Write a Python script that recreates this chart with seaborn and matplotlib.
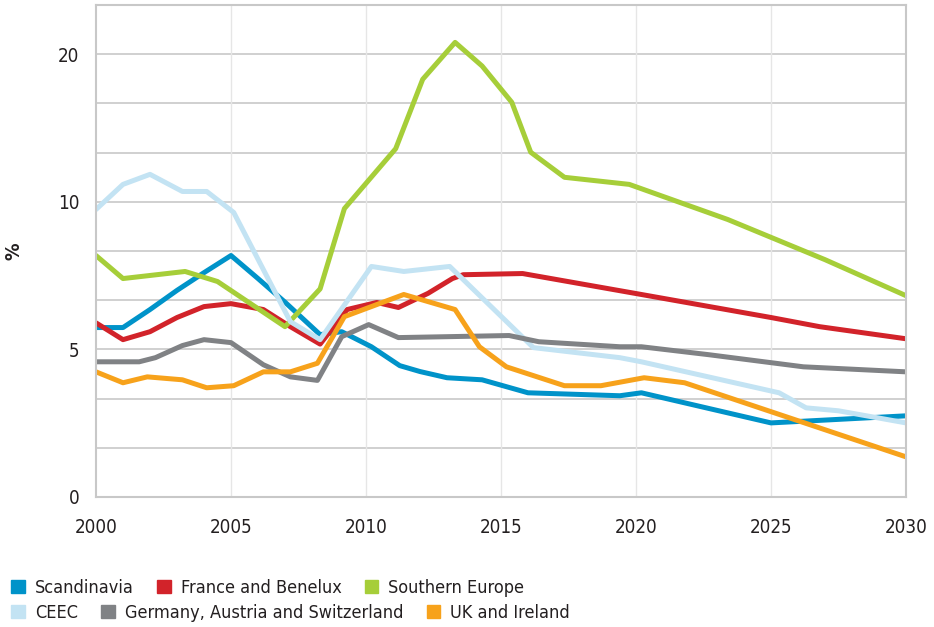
import numpy as np
import pandas as pd
import matplotlib.pyplot as plt
import seaborn as sns
from matplotlib.patches import Patch

# Значения в единицах оси (подпись "20" стоит на отметке 15, как в оригинале)
scand_years = [2000, 2001, 2002, 2003, 2004, 2005, 2006, 2007, 2008.3, 2009.1, 2010.2, 2011.25,
               2012, 2013, 2014.3, 2016, 2019.4, 2020.2, 2025, 2030]
scand_vals = [5.74, 5.74, 6.35, 7.0, 7.6, 8.18, 7.4, 6.6, 5.5, 5.6, 5.09, 4.45,
              4.25, 4.04, 3.97, 3.53, 3.43, 3.53, 2.51, 2.75]

france_years = [2000, 2001, 2002, 2003, 2004, 2005, 2006.2, 2007.2, 2008.3, 2009.3, 2010.4, 2011.2,
                2012.3, 2013.2, 2013.6, 2015.8, 2020.2, 2025, 2026.8, 2030]
france_vals = [5.9, 5.33, 5.6, 6.08, 6.45, 6.55, 6.35, 5.77, 5.18, 6.35, 6.59, 6.42,
               6.9, 7.4, 7.53, 7.57, 6.86, 6.08, 5.77, 5.36]

south_years = [2000, 2001, 2003.3, 2004.5, 2007, 2008.3, 2009.2, 2011.1, 2012.1, 2013.3, 2014.3,
               2015.4, 2016.1, 2017.35, 2019.75, 2023.4, 2027, 2030]
south_vals = [8.18, 7.4, 7.64, 7.3, 5.77, 7.05, 9.77, 11.8, 14.15, 15.4, 14.6,
              13.37, 11.68, 10.83, 10.59, 9.4, 8.04, 6.82]

ceec_years = [2000, 2001, 2002, 2003.2, 2004.1, 2005.1, 2007.2, 2008.3, 2010.2, 2011.4, 2013.1,
              2016.2, 2019.4, 2020.2, 2025.3, 2026.3, 2027.5, 2030]
ceec_vals = [9.74, 10.59, 10.93, 10.35, 10.35, 9.64, 5.94, 5.33, 7.81, 7.64, 7.81,
             5.06, 4.72, 4.58, 3.53, 3.02, 2.92, 2.51]

dach_years = [2000, 2001.6, 2002.2, 2003.2, 2004, 2005, 2006.2, 2007.2, 2008.2, 2009.1, 2010.1,
              2011.2, 2015.3, 2016.4, 2019.4, 2020.2, 2022.7, 2026.2, 2030]
dach_vals = [4.58, 4.58, 4.72, 5.13, 5.33, 5.23, 4.48, 4.07, 3.95, 5.43, 5.84,
             5.4, 5.47, 5.26, 5.09, 5.09, 4.82, 4.41, 4.24]

uk_years = [2000, 2001, 2001.9, 2003.2, 2004.1, 2005.1, 2006.2, 2007.2, 2008.2, 2009.2, 2011.4,
            2013.3, 2014.2, 2015.2, 2017.35, 2018.7, 2020.3, 2021.8, 2030]
uk_vals = [4.24, 3.87, 4.07, 3.97, 3.7, 3.77, 4.24, 4.24, 4.53, 6.11, 6.86,
           6.35, 5.09, 4.41, 3.77, 3.77, 4.04, 3.87, 1.36]

regions = ['Scandinavia', 'France and Benelux', 'Southern Europe',
           'CEEC', 'Germany, Austria and Switzerland', 'UK and Ireland']
colors = ['#0093C9', '#D2232A', '#A6CE39', '#C3E3F3', '#808285', '#F7A21B']

ytick_pos = [0, 5, 10, 15]
ytick_labels = ['0', '5', '10', '20']
xticks = [2000, 2005, 2010, 2015, 2020, 2025, 2030]

series = [(scand_years, scand_vals), (france_years, france_vals), (south_years, south_vals),
          (ceec_years, ceec_vals), (dach_years, dach_vals), (uk_years, uk_vals)]
frames = []
for name, (yrs, vals) in zip(regions, series):
    frames.append(pd.DataFrame({'year': yrs, 'value': vals, 'region': name}))
df = pd.concat(frames, ignore_index=True)

sns.set_style('white')
plt.rcParams['font.family'] = ['DejaVu Sans']
plt.rcParams['font.stretch'] = 'condensed'
text_color = '#231F20'
grid_color = '#C8C8C8'

fig = plt.figure(figsize=(9.34, 6.27), dpi=100)
ax = fig.add_axes([96 / 934, 130 / 627, 810 / 934, 492 / 627])

sns.lineplot(data=df, x='year', y='value', hue='region', hue_order=regions,
             palette=colors, estimator=None, sort=False, linewidth=3.6,
             legend=False, ax=ax)

ax.set_xlim(2000, 2030)
ax.set_ylim(0, 50 / 3)
ax.set_xticks(xticks)
ax.set_xticklabels([str(x) for x in xticks])
ax.set_yticks(ytick_pos)
ax.set_yticklabels(ytick_labels)
ax.grid(False)
for yv in np.arange(5 / 3, 16.7, 5 / 3):
    ax.axhline(yv, color=grid_color, lw=1.2, zorder=0)
for xv in xticks[1:-1]:
    ax.axvline(xv, color='#E6E6E6', lw=1, zorder=0)
for sp in ax.spines.values():
    sp.set_color(grid_color)
    sp.set_linewidth(1.5)
ax.tick_params(axis='both', which='both', length=0, labelsize=13.5, colors=text_color)
ax.tick_params(axis='y', pad=12)
ax.tick_params(axis='x', pad=15)
ax.set_xlabel('')
ax.set_ylabel('%', fontsize=14, fontweight='bold', color=text_color)
ax.yaxis.set_label_coords(-73 / 810, 0.5)

row1 = [Patch(color=c) for c in colors[:3]]
row2 = [Patch(color=c) for c in colors[3:]]
kw = dict(frameon=False, fontsize=13, handlelength=0.75, handleheight=0.75,
          handletextpad=0.55, columnspacing=1.3, borderaxespad=0, labelcolor=text_color)
fig.legend(row1, regions[:3], ncol=3, loc='center left', bbox_to_anchor=(4 / 934, 1 - 588 / 627), **kw)
fig.legend(row2, regions[3:], ncol=3, loc='center left', bbox_to_anchor=(4 / 934, 1 - 613 / 627), **kw)

plt.savefig('out.png', dpi=100)
plt.close()
